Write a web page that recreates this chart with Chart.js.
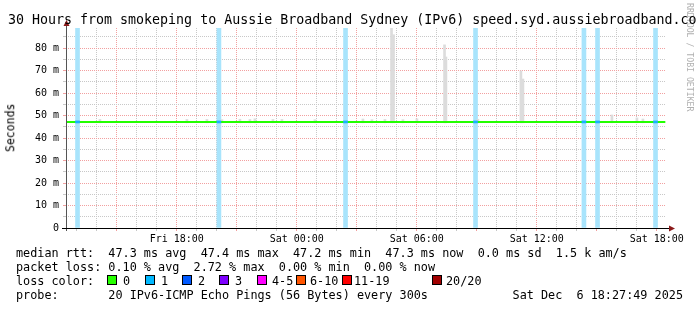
<!DOCTYPE html>
<html><head><meta charset="utf-8">
<script src="https://cdn.jsdelivr.net/npm/chart.js@4/dist/chart.umd.min.js"></script>
<style>
html,body{margin:0;padding:0;background:#fff;}
#wrap{position:relative;width:697px;height:310px;overflow:hidden;background:#fff;}
#c{position:absolute;left:0;top:0;width:697px;height:310px;}
.t{position:absolute;white-space:pre;font-family:"DejaVu Sans Mono",monospace;color:#000;line-height:1em;}
.box{position:absolute;width:8px;height:8px;border:1px solid #000;}
</style></head><body>
<div id="wrap">
<canvas id="c" width="697" height="310"></canvas>
<div class="t" id="rrd" style="left:686px;top:3px;font-size:8.2px;color:#b0b0b0;writing-mode:vertical-rl;line-height:8px;">RRDTOOL / TOBI OETIKER</div>
<div class="t" style="left:8px;top:12.75px;font-size:13.3px;">30 Hours from smokeping to Aussie Broadband Sydney (IPv6) speed.syd.aussiebroadband.com</div>
<div class="t" style="left:-39px;top:122px;width:100px;text-align:center;font-size:11.5px;transform:rotate(-90deg);">Seconds</div>
<div class="t" style="left:16px;top:248px;font-size:11.8px;">median rtt:  47.3 ms avg  47.4 ms max  47.2 ms min  47.3 ms now  0.0 ms sd  1.5 k am/s</div>
<div class="t" style="left:16px;top:262px;font-size:11.8px;">packet loss: 0.10 % avg  2.72 % max  0.00 % min  0.00 % now</div>
<div class="t" style="left:16px;top:276px;font-size:11.8px;">loss color:</div>
<div id="losslegend"></div>
<div class="t" style="left:16px;top:290px;font-size:11.8px;">probe:       20 IPv6-ICMP Echo Pings (56 Bytes) every 300s</div>
<div class="t" style="right:14px;top:290px;font-size:11.8px;">Sat Dec  6 18:27:49 2025</div>
</div>
<script>
// ---- data (hours since Fri 00:00, values in ms) ----
const START_HOUR = 12 + 27/60 + 49/3600;   // Fri 12:27:49
const END_HOUR = START_HOUR + 30;          // Sat 18:27:49
const Y_MAX = 89.0;

const hourTicks = [13,14,15,16,17,18,19,20,21,22,23,24,25,26,27,28,29,30,31,32,33,34,35,36,37,38,39,40,41,42];
const labelHours = [18, 24, 30, 36, 42];
const labelTexts = ['Fri 18:00', 'Sat 00:00', 'Sat 06:00', 'Sat 12:00', 'Sat 18:00'];
const yTicks = [0,5,10,15,20,25,30,35,40,45,50,55,60,65,70,75,80,85];

const medianHours = [12.47, 42.43];
const medianMs = [47.2, 47.2];

const lossHours = [13.04, 20.11, 26.44, 32.94, 38.36, 39.04, 41.94];

const smokeHours = [14.16, 18.51, 19.51, 20.26, 21.16, 21.66, 21.91, 22.81, 23.26, 24.91, 27.31, 27.76, 28.41,
                    28.74, 28.84, 29.31, 30.01, 31.39, 31.46, 33.06, 35.21, 35.31, 39.76, 41.01, 41.31];
const smokeLowMs = [46.8, 46.8, 46.8, 46.8, 46.8, 46.8, 46.8, 46.8, 46.8, 46.8, 46.8, 46.8, 46.8,
                    46.8, 46.8, 46.8, 46.8, 46.8, 46.8, 46.8, 46.8, 46.8, 46.8, 46.8, 46.8];
const smokeHighMs = [48.3, 48.3, 48.3, 48.2, 48.4, 48.3, 48.6, 48.3, 48.3, 48.2, 48.5, 48.2, 48.3,
                     89.0, 86.0, 48.2, 48.6, 81.5, 76.1, 48.4, 69.9, 66.3, 50.3, 49.0, 48.5];

const lossLabels = ['0', '1', '2', '3', '4-5', '6-10', '11-19', '20/20'];
// ---- styles ----
const lossColors = ['#26ff00', '#00b8ff', '#0059ff', '#7e00ff', '#ff00ff', '#ff5500', '#ff0000', '#a10000'];
const lossBoxX = [107, 145, 182, 219, 257, 296, 342, 432];
const lossTextX = [123, 161, 198, 235, 272, 310, 354, 446];

const leg = document.getElementById('losslegend');
lossLabels.forEach((lab, i) => {
  const b = document.createElement('div');
  b.className = 'box';
  b.style.left = lossBoxX[i] + 'px'; b.style.top = '275px'; b.style.background = lossColors[i];
  leg.appendChild(b);
  const t = document.createElement('div');
  t.className = 't'; t.style.left = lossTextX[i] + 'px'; t.style.top = '276px'; t.style.fontSize = '11.8px';
  t.textContent = lab;
  leg.appendChild(t);
});

const GRID_GRAY = '#c8c8c8';
const GRID_RED = '#f2a0a0';
const MED = medianMs[0];

const axisArrows = {
  id: 'axisArrows',
  afterDatasetsDraw(chart) {
    const {ctx, chartArea: a} = chart;
    ctx.save();
    ctx.lineWidth = 1;
    ctx.strokeStyle = '#555';
    ctx.beginPath(); ctx.moveTo(a.left + 0.5, a.bottom + 3); ctx.lineTo(a.left + 0.5, a.top - 6); ctx.stroke();
    ctx.strokeStyle = '#000';
    ctx.beginPath(); ctx.moveTo(a.left - 4, a.bottom + 0.5); ctx.lineTo(a.right + 4, a.bottom + 0.5); ctx.stroke();
    ctx.fillStyle = '#8b1a1a';
    ctx.beginPath(); ctx.moveTo(a.left + 0.5, a.top - 8); ctx.lineTo(a.left - 2.5, a.top - 2); ctx.lineTo(a.left + 3.5, a.top - 2); ctx.closePath(); ctx.fill();
    ctx.beginPath(); ctx.moveTo(a.right + 9, a.bottom + 0.5); ctx.lineTo(a.right + 3, a.bottom - 2.5); ctx.lineTo(a.right + 3, a.bottom + 3.5); ctx.closePath(); ctx.fill();
    ctx.restore();
  }
};

new Chart(document.getElementById('c'), {
  type: 'bar',
  data: {
    datasets: [
      {type: 'bar', label: 'loss', data: lossHours.map(h => ({x: h, y: [0, Y_MAX]})),
       backgroundColor: '#a8e4fc', barThickness: 4, grouped: false, order: 5},
      {type: 'bar', label: 'smoke', data: smokeHours.map((h, i) => ({x: h, y: [smokeLowMs[i], smokeHighMs[i]]})),
       backgroundColor: '#dcdcdc', barThickness: 2, grouped: false, order: 4},
      {type: 'line', label: 'median', data: medianHours.map((h, i) => ({x: h, y: medianMs[i]})),
       borderColor: '#22ff00', borderWidth: 2, pointRadius: 0, order: 3},
      {type: 'bar', label: 'lossmedian', data: lossHours.map(h => ({x: h, y: [MED - 0.45, MED + 0.45]})),
       backgroundColor: '#1ab0ff', barThickness: 4, grouped: false, order: 2}
    ]
  },
  options: {
    responsive: false, animation: false, devicePixelRatio: 1,
    layout: {padding: {left: 0, top: 28, right: 31, bottom: 62}},
    plugins: {legend: {display: false}, tooltip: {enabled: false}},
    scales: {
      x: {
        type: 'linear', min: START_HOUR, max: END_HOUR, offset: false,
        afterBuildTicks: s => { s.ticks = hourTicks.map(v => ({value: v})); },
        afterFit: s => { s.height = 20; },
        grid: {offset: false, color: c => (c.tick && c.tick.value % 3 === 0) ? GRID_RED : GRID_GRAY, tickLength: 3, lineWidth: 1},
        border: {display: false, dash: [1, 1]},
        ticks: {autoSkip: false, maxRotation: 0, padding: 2, color: '#000',
          font: {family: 'DejaVu Sans Mono', size: 10},
          callback: v => { const i = labelHours.indexOf(v); return i >= 0 ? labelTexts[i] : ''; }}
      },
      y: {
        min: 0, max: Y_MAX,
        afterBuildTicks: s => { s.ticks = yTicks.map(v => ({value: v})); },
        afterFit: s => { s.width = 66; },
        grid: {color: c => (c.tick && c.tick.value % 10 === 0) ? GRID_RED : GRID_GRAY, tickLength: 3, lineWidth: 1},
        border: {display: false, dash: [1, 1]},
        ticks: {autoSkip: false, padding: 4, color: '#000',
          font: {family: 'DejaVu Sans Mono', size: 10},
          callback: v => v === 0 ? '0' : (v % 10 === 0 ? v + ' m' : '')}
      }
    }
  },
  plugins: [axisArrows]
});
</script>
</body></html>
